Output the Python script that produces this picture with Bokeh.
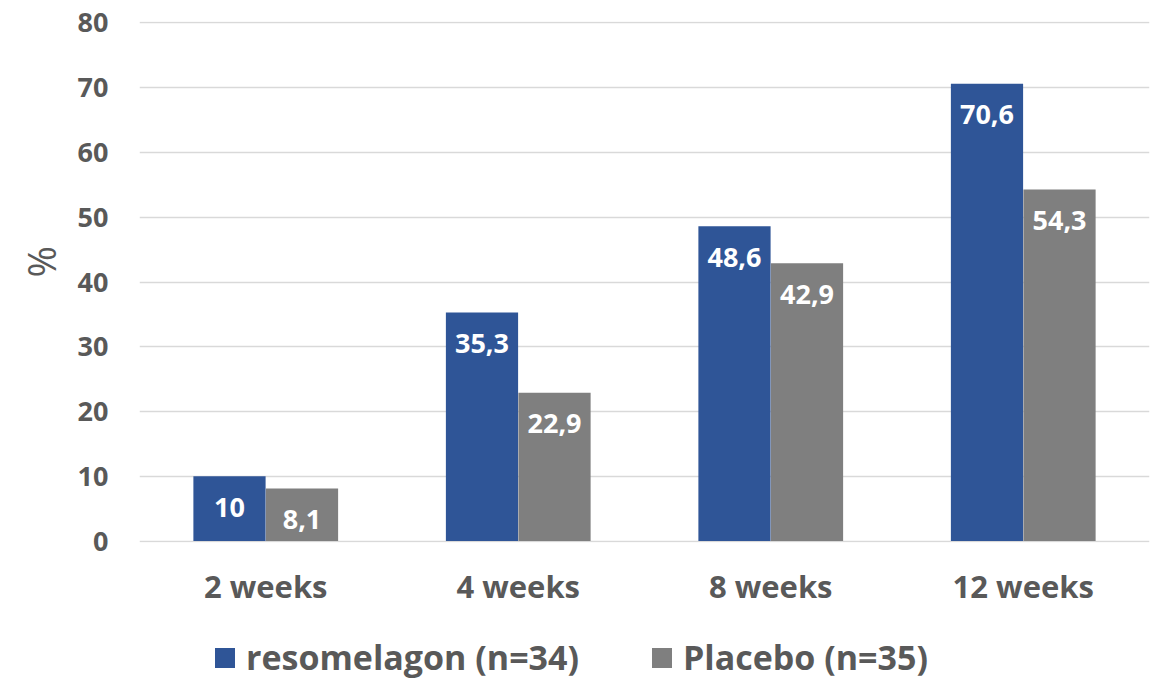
from bokeh.plotting import figure
from bokeh.layouts import column
from bokeh.models import (ColumnDataSource, FactorRange, Range1d, FixedTicker,
                          Legend, LegendItem, Title)
from bokeh.transform import dodge
from bokeh.core.properties import value
from bokeh.embed import file_html
from bokeh.resources import INLINE

# ---- data ----
categories = ["2 weeks", "4 weeks", "8 weeks", "12 weeks"]
resomelagon = [10, 35.3, 48.6, 70.6]
placebo = [8.1, 22.9, 42.9, 54.3]
series_names = ["resomelagon (n=34)", "Placebo (n=35)"]
y_ticks = [0, 10, 20, 30, 40, 50, 60, 70, 80]
y_label = "%"

def fmt(v):
    return f"{v:g}".replace(".", ",")

src = ColumnDataSource(dict(
    cat=categories,
    reso=resomelagon,
    plac=placebo,
    reso_lbl=[fmt(v) for v in resomelagon],
    plac_lbl=[fmt(v) for v in placebo],
))

BLUE = "#2F5597"
GRAY = "#7F7F7F"
TXT = "#595959"
FONT = "Open Sans"

xr = FactorRange(factors=categories, range_padding=0, factor_padding=0)

p = figure(frame_width=1010, frame_height=521, output_backend="svg", toolbar_location=None,
           x_range=xr, y_range=Range1d(-0.23, 80.23),
           min_border_left=139, min_border_right=5, min_border_top=21, min_border_bottom=72)
p.outline_line_color = None
p.background_fill_color = "white"
p.border_fill_color = "white"

off = 0.1436
bw = 0.286
p.vbar(x=dodge("cat", -off, range=xr), top="reso", width=bw, bottom=0,
       source=src, fill_color=BLUE, line_color=None)
p.vbar(x=dodge("cat", off, range=xr), top="plac", width=bw, bottom=0,
       source=src, fill_color=GRAY, line_color=None)

for col, lbl, dx in (("reso", "reso_lbl", -off), ("plac", "plac_lbl", off)):
    p.text(x=dodge("cat", dx, range=xr), y=col, text=lbl, source=src,
           text_align="center", text_baseline="middle", y_offset=31,
           text_color="white", text_font=value(FONT), text_font_style="bold",
           text_font_size="27px")

# grid
p.xgrid.grid_line_color = None
p.ygrid.grid_line_color = "#D9D9D9"
p.ygrid.grid_line_width = 1.5
p.ygrid.ticker = FixedTicker(ticks=y_ticks)

# axes
p.yaxis.ticker = FixedTicker(ticks=y_ticks)
for ax in (p.xaxis[0], p.yaxis[0]):
    ax.axis_line_color = None
    ax.major_tick_line_color = None
    ax.minor_tick_line_color = None
    ax.major_tick_out = 0
    ax.major_tick_in = 0
    ax.major_label_text_font = FONT
    ax.major_label_text_font_style = "bold"
    ax.major_label_text_color = TXT
p.yaxis.major_label_text_font_size = "27px"
p.yaxis.major_label_standoff = 31
p.xaxis.major_label_text_font_size = "31px"
p.xaxis.major_label_standoff = 22

# "%" axis title, in the left panel
p.add_layout(Title(text=y_label, align="left", offset=265, standoff=16,
                   text_font=FONT, text_font_size="38px", text_font_style="normal",
                   text_color=TXT), "left")

# ---- legend strip below the chart (same series, drawn far outside its visible y range) ----
lg = figure(width=1154, height=66, output_backend="svg", toolbar_location=None,
            x_range=xr, y_range=Range1d(1000, 1001),
            x_axis_location=None, y_axis_location=None,
            min_border=0, min_border_left=0, min_border_right=0,
            min_border_top=0, min_border_bottom=0)
lg.outline_line_color = None
lg.grid.visible = False
lr1 = lg.vbar(x=dodge("cat", -off, range=xr), top="reso", width=bw, bottom=0,
              source=src, fill_color=BLUE, line_color=None)
lr2 = lg.vbar(x=dodge("cat", off, range=xr), top="plac", width=bw, bottom=0,
              source=src, fill_color=GRAY, line_color=None)

legend = Legend(items=[LegendItem(label=series_names[0], renderers=[lr1]),
                       LegendItem(label=series_names[1], renderers=[lr2])],
                orientation="horizontal", location=(73, 0),
                label_text_font=FONT, label_text_font_style="bold",
                label_text_font_size="34px", label_text_color=TXT,
                glyph_width=25, glyph_height=25, label_standoff=9, spacing=70,
                padding=0, margin=0, border_line_color=None,
                background_fill_alpha=0)
lg.add_layout(legend)

open("out.html", "w").write(file_html(column(p, lg, spacing=0), INLINE))
